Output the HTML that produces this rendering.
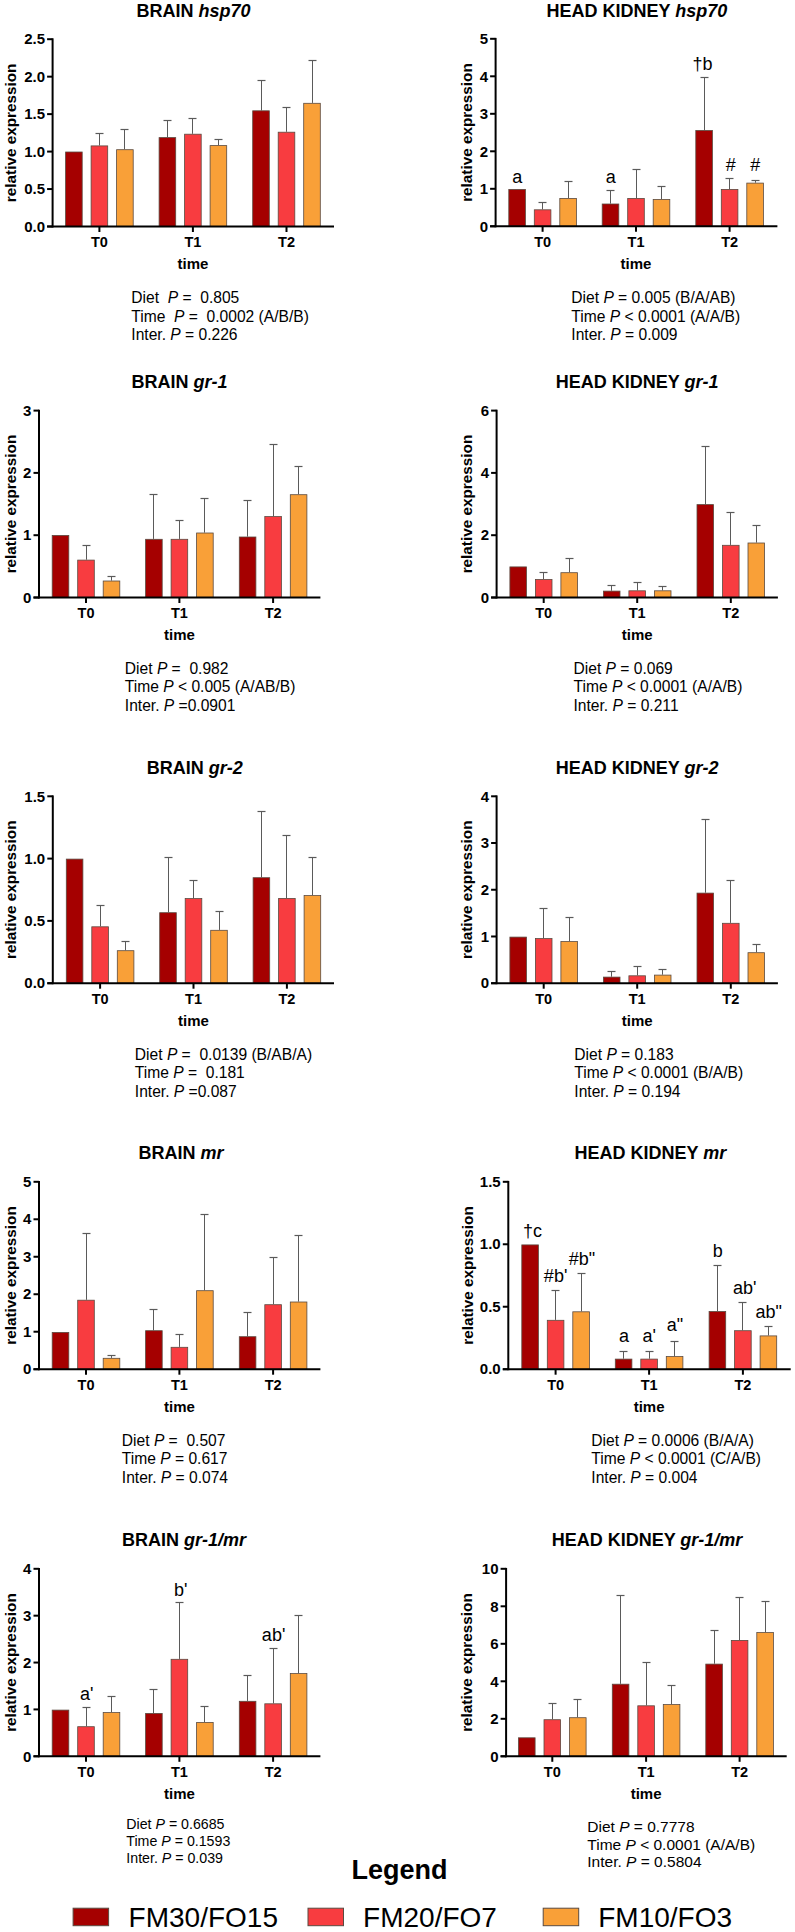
<!DOCTYPE html>
<html><head><meta charset="utf-8"><style>
html,body{margin:0;padding:0;background:#fff;}
svg{display:block;}
</style></head><body>
<svg width="795" height="1932" viewBox="0 0 795 1932" font-family='"Liberation Sans", sans-serif' fill="#000">
<rect x="0" y="0" width="795" height="1932" fill="#fff"/>
<rect x="65.60" y="152.00" width="16.60" height="74.50" fill="#a50000" stroke="#5a4a40" stroke-width="0.8"/>
<line x1="99.50" y1="145.50" x2="99.50" y2="133.50" stroke="#5a5a5a" stroke-width="1"/>
<line x1="95.50" y1="133.50" x2="103.50" y2="133.50" stroke="#5a5a5a" stroke-width="1.2"/>
<rect x="91.10" y="145.90" width="16.60" height="80.60" fill="#f83c40" stroke="#5a4a40" stroke-width="0.8"/>
<line x1="124.50" y1="149.30" x2="124.50" y2="129.50" stroke="#5a5a5a" stroke-width="1"/>
<line x1="120.50" y1="129.50" x2="128.50" y2="129.50" stroke="#5a5a5a" stroke-width="1.2"/>
<rect x="116.60" y="149.70" width="16.60" height="76.80" fill="#f9a038" stroke="#5a4a40" stroke-width="0.8"/>
<line x1="167.50" y1="137.20" x2="167.50" y2="120.50" stroke="#5a5a5a" stroke-width="1"/>
<line x1="163.50" y1="120.50" x2="171.50" y2="120.50" stroke="#5a5a5a" stroke-width="1.2"/>
<rect x="159.10" y="137.60" width="16.60" height="88.90" fill="#a50000" stroke="#5a4a40" stroke-width="0.8"/>
<line x1="192.50" y1="133.80" x2="192.50" y2="118.50" stroke="#5a5a5a" stroke-width="1"/>
<line x1="188.50" y1="118.50" x2="196.50" y2="118.50" stroke="#5a5a5a" stroke-width="1.2"/>
<rect x="184.60" y="134.20" width="16.60" height="92.30" fill="#f83c40" stroke="#5a4a40" stroke-width="0.8"/>
<line x1="218.50" y1="145.20" x2="218.50" y2="139.50" stroke="#5a5a5a" stroke-width="1"/>
<line x1="214.50" y1="139.50" x2="222.50" y2="139.50" stroke="#5a5a5a" stroke-width="1.2"/>
<rect x="210.10" y="145.60" width="16.60" height="80.90" fill="#f9a038" stroke="#5a4a40" stroke-width="0.8"/>
<line x1="261.50" y1="110.40" x2="261.50" y2="80.50" stroke="#5a5a5a" stroke-width="1"/>
<line x1="257.50" y1="80.50" x2="265.50" y2="80.50" stroke="#5a5a5a" stroke-width="1.2"/>
<rect x="252.70" y="110.80" width="16.60" height="115.70" fill="#a50000" stroke="#5a4a40" stroke-width="0.8"/>
<line x1="286.50" y1="131.80" x2="286.50" y2="107.50" stroke="#5a5a5a" stroke-width="1"/>
<line x1="282.50" y1="107.50" x2="290.50" y2="107.50" stroke="#5a5a5a" stroke-width="1.2"/>
<rect x="278.20" y="132.20" width="16.60" height="94.30" fill="#f83c40" stroke="#5a4a40" stroke-width="0.8"/>
<line x1="312.50" y1="102.90" x2="312.50" y2="60.50" stroke="#5a5a5a" stroke-width="1"/>
<line x1="308.50" y1="60.50" x2="316.50" y2="60.50" stroke="#5a5a5a" stroke-width="1.2"/>
<rect x="303.70" y="103.30" width="16.60" height="123.20" fill="#f9a038" stroke="#5a4a40" stroke-width="0.8"/>
<line x1="52.60" y1="38.30" x2="52.60" y2="227.50" stroke="#000" stroke-width="2"/>
<line x1="47.10" y1="226.50" x2="334.00" y2="226.50" stroke="#000" stroke-width="2"/>
<line x1="47.10" y1="226.50" x2="52.60" y2="226.50" stroke="#000" stroke-width="2"/>
<text transform="translate(45.00,231.70) scale(1.0,1)" text-anchor="end" font-weight="bold" font-size="15">0.0</text>
<line x1="47.10" y1="189.04" x2="52.60" y2="189.04" stroke="#000" stroke-width="2"/>
<text transform="translate(45.00,194.24) scale(1.0,1)" text-anchor="end" font-weight="bold" font-size="15">0.5</text>
<line x1="47.10" y1="151.58" x2="52.60" y2="151.58" stroke="#000" stroke-width="2"/>
<text transform="translate(45.00,156.78) scale(1.0,1)" text-anchor="end" font-weight="bold" font-size="15">1.0</text>
<line x1="47.10" y1="114.12" x2="52.60" y2="114.12" stroke="#000" stroke-width="2"/>
<text transform="translate(45.00,119.32) scale(1.0,1)" text-anchor="end" font-weight="bold" font-size="15">1.5</text>
<line x1="47.10" y1="76.66" x2="52.60" y2="76.66" stroke="#000" stroke-width="2"/>
<text transform="translate(45.00,81.86) scale(1.0,1)" text-anchor="end" font-weight="bold" font-size="15">2.0</text>
<line x1="47.10" y1="39.20" x2="52.60" y2="39.20" stroke="#000" stroke-width="2"/>
<text transform="translate(45.00,44.40) scale(1.0,1)" text-anchor="end" font-weight="bold" font-size="15">2.5</text>
<line x1="99.40" y1="226.50" x2="99.40" y2="232.00" stroke="#000" stroke-width="2"/>
<text transform="translate(99.40,246.80) scale(1.0,1)" text-anchor="middle" font-weight="bold" font-size="14.5">T0</text>
<line x1="192.90" y1="226.50" x2="192.90" y2="232.00" stroke="#000" stroke-width="2"/>
<text transform="translate(192.90,246.80) scale(1.0,1)" text-anchor="middle" font-weight="bold" font-size="14.5">T1</text>
<line x1="286.50" y1="226.50" x2="286.50" y2="232.00" stroke="#000" stroke-width="2"/>
<text transform="translate(286.50,246.80) scale(1.0,1)" text-anchor="middle" font-weight="bold" font-size="14.5">T2</text>
<text transform="translate(192.90,269.10) scale(1.0,1)" text-anchor="middle" font-weight="bold" font-size="15">time</text>
<text transform="translate(15.70,132.85) rotate(-90) scale(1.0,1)" text-anchor="middle" font-weight="bold" font-size="15.3">relative expression</text>
<text transform="translate(193.50,17.10) scale(1.0,1)" text-anchor="middle" font-weight="bold" font-size="18">BRAIN <tspan font-style="italic">hsp70</tspan></text>
<text transform="translate(131.30,302.70) scale(1.0,1)" font-size="15.6" xml:space="preserve" style="white-space:pre">Diet  <tspan font-style="italic">P</tspan> =  0.805</text>
<text transform="translate(131.30,321.60) scale(1.0,1)" font-size="15.6" xml:space="preserve" style="white-space:pre">Time  <tspan font-style="italic">P</tspan> =  0.0002 (A/B/B)</text>
<text transform="translate(131.30,339.70) scale(1.0,1)" font-size="15.6" xml:space="preserve" style="white-space:pre">Inter. <tspan font-style="italic">P</tspan> = 0.226</text>
<rect x="508.80" y="189.40" width="16.60" height="36.90" fill="#a50000" stroke="#5a4a40" stroke-width="0.8"/>
<line x1="542.50" y1="209.40" x2="542.50" y2="202.50" stroke="#5a5a5a" stroke-width="1"/>
<line x1="538.50" y1="202.50" x2="546.50" y2="202.50" stroke="#5a5a5a" stroke-width="1.2"/>
<rect x="534.30" y="209.80" width="16.60" height="16.50" fill="#f83c40" stroke="#5a4a40" stroke-width="0.8"/>
<line x1="568.50" y1="198.00" x2="568.50" y2="181.50" stroke="#5a5a5a" stroke-width="1"/>
<line x1="564.50" y1="181.50" x2="572.50" y2="181.50" stroke="#5a5a5a" stroke-width="1.2"/>
<rect x="559.80" y="198.40" width="16.60" height="27.90" fill="#f9a038" stroke="#5a4a40" stroke-width="0.8"/>
<line x1="610.50" y1="203.60" x2="610.50" y2="190.50" stroke="#5a5a5a" stroke-width="1"/>
<line x1="606.50" y1="190.50" x2="614.50" y2="190.50" stroke="#5a5a5a" stroke-width="1.2"/>
<rect x="602.20" y="204.00" width="16.60" height="22.30" fill="#a50000" stroke="#5a4a40" stroke-width="0.8"/>
<line x1="636.50" y1="198.00" x2="636.50" y2="169.50" stroke="#5a5a5a" stroke-width="1"/>
<line x1="632.50" y1="169.50" x2="640.50" y2="169.50" stroke="#5a5a5a" stroke-width="1.2"/>
<rect x="627.70" y="198.40" width="16.60" height="27.90" fill="#f83c40" stroke="#5a4a40" stroke-width="0.8"/>
<line x1="661.50" y1="199.00" x2="661.50" y2="186.50" stroke="#5a5a5a" stroke-width="1"/>
<line x1="657.50" y1="186.50" x2="665.50" y2="186.50" stroke="#5a5a5a" stroke-width="1.2"/>
<rect x="653.20" y="199.40" width="16.60" height="26.90" fill="#f9a038" stroke="#5a4a40" stroke-width="0.8"/>
<line x1="704.50" y1="130.10" x2="704.50" y2="77.50" stroke="#5a5a5a" stroke-width="1"/>
<line x1="700.50" y1="77.50" x2="708.50" y2="77.50" stroke="#5a5a5a" stroke-width="1.2"/>
<rect x="695.80" y="130.50" width="16.60" height="95.80" fill="#a50000" stroke="#5a4a40" stroke-width="0.8"/>
<line x1="729.50" y1="189.00" x2="729.50" y2="178.50" stroke="#5a5a5a" stroke-width="1"/>
<line x1="725.50" y1="178.50" x2="733.50" y2="178.50" stroke="#5a5a5a" stroke-width="1.2"/>
<rect x="721.30" y="189.40" width="16.60" height="36.90" fill="#f83c40" stroke="#5a4a40" stroke-width="0.8"/>
<line x1="755.50" y1="182.70" x2="755.50" y2="180.50" stroke="#5a5a5a" stroke-width="1"/>
<line x1="751.50" y1="180.50" x2="759.50" y2="180.50" stroke="#5a5a5a" stroke-width="1.2"/>
<rect x="746.80" y="183.10" width="16.60" height="43.20" fill="#f9a038" stroke="#5a4a40" stroke-width="0.8"/>
<line x1="495.60" y1="37.90" x2="495.60" y2="227.30" stroke="#000" stroke-width="2"/>
<line x1="490.10" y1="226.30" x2="777.40" y2="226.30" stroke="#000" stroke-width="2"/>
<line x1="490.10" y1="226.30" x2="495.60" y2="226.30" stroke="#000" stroke-width="2"/>
<text transform="translate(488.00,231.50) scale(1.0,1)" text-anchor="end" font-weight="bold" font-size="15">0</text>
<line x1="490.10" y1="188.80" x2="495.60" y2="188.80" stroke="#000" stroke-width="2"/>
<text transform="translate(488.00,194.00) scale(1.0,1)" text-anchor="end" font-weight="bold" font-size="15">1</text>
<line x1="490.10" y1="151.30" x2="495.60" y2="151.30" stroke="#000" stroke-width="2"/>
<text transform="translate(488.00,156.50) scale(1.0,1)" text-anchor="end" font-weight="bold" font-size="15">2</text>
<line x1="490.10" y1="113.80" x2="495.60" y2="113.80" stroke="#000" stroke-width="2"/>
<text transform="translate(488.00,119.00) scale(1.0,1)" text-anchor="end" font-weight="bold" font-size="15">3</text>
<line x1="490.10" y1="76.30" x2="495.60" y2="76.30" stroke="#000" stroke-width="2"/>
<text transform="translate(488.00,81.50) scale(1.0,1)" text-anchor="end" font-weight="bold" font-size="15">4</text>
<line x1="490.10" y1="38.80" x2="495.60" y2="38.80" stroke="#000" stroke-width="2"/>
<text transform="translate(488.00,44.00) scale(1.0,1)" text-anchor="end" font-weight="bold" font-size="15">5</text>
<line x1="542.60" y1="226.30" x2="542.60" y2="231.80" stroke="#000" stroke-width="2"/>
<text transform="translate(542.60,246.60) scale(1.0,1)" text-anchor="middle" font-weight="bold" font-size="14.5">T0</text>
<line x1="636.00" y1="226.30" x2="636.00" y2="231.80" stroke="#000" stroke-width="2"/>
<text transform="translate(636.00,246.60) scale(1.0,1)" text-anchor="middle" font-weight="bold" font-size="14.5">T1</text>
<line x1="729.60" y1="226.30" x2="729.60" y2="231.80" stroke="#000" stroke-width="2"/>
<text transform="translate(729.60,246.60) scale(1.0,1)" text-anchor="middle" font-weight="bold" font-size="14.5">T2</text>
<text transform="translate(636.00,268.90) scale(1.0,1)" text-anchor="middle" font-weight="bold" font-size="15">time</text>
<text transform="translate(471.70,132.55) rotate(-90) scale(1.0,1)" text-anchor="middle" font-weight="bold" font-size="15.3">relative expression</text>
<text transform="translate(636.90,17.10) scale(1.0,1)" text-anchor="middle" font-weight="bold" font-size="18">HEAD KIDNEY <tspan font-style="italic">hsp70</tspan></text>
<text transform="translate(517.20,183.00) scale(1.0,1)" text-anchor="middle" font-size="18">a</text>
<text transform="translate(610.80,183.30) scale(1.0,1)" text-anchor="middle" font-size="18">a</text>
<text transform="translate(702.40,69.50) scale(1.0,1)" text-anchor="middle" font-size="18">†b</text>
<text transform="translate(730.80,171.40) scale(1.0,1)" text-anchor="middle" font-size="18">#</text>
<text transform="translate(755.30,171.40) scale(1.0,1)" text-anchor="middle" font-size="18">#</text>
<text transform="translate(571.30,302.70) scale(1.0,1)" font-size="15.6" xml:space="preserve" style="white-space:pre">Diet <tspan font-style="italic">P</tspan> = 0.005 (B/A/AB)</text>
<text transform="translate(571.30,321.60) scale(1.0,1)" font-size="15.6" xml:space="preserve" style="white-space:pre">Time <tspan font-style="italic">P</tspan> &lt; 0.0001 (A/A/B)</text>
<text transform="translate(571.30,339.70) scale(1.0,1)" font-size="15.6" xml:space="preserve" style="white-space:pre">Inter. <tspan font-style="italic">P</tspan> = 0.009</text>
<rect x="52.20" y="535.40" width="16.60" height="62.10" fill="#a50000" stroke="#5a4a40" stroke-width="0.8"/>
<line x1="86.50" y1="559.70" x2="86.50" y2="545.50" stroke="#5a5a5a" stroke-width="1"/>
<line x1="82.50" y1="545.50" x2="90.50" y2="545.50" stroke="#5a5a5a" stroke-width="1.2"/>
<rect x="77.70" y="560.10" width="16.60" height="37.40" fill="#f83c40" stroke="#5a4a40" stroke-width="0.8"/>
<line x1="111.50" y1="580.60" x2="111.50" y2="576.50" stroke="#5a5a5a" stroke-width="1"/>
<line x1="107.50" y1="576.50" x2="115.50" y2="576.50" stroke="#5a5a5a" stroke-width="1.2"/>
<rect x="103.20" y="581.00" width="16.60" height="16.50" fill="#f9a038" stroke="#5a4a40" stroke-width="0.8"/>
<line x1="153.50" y1="538.90" x2="153.50" y2="494.50" stroke="#5a5a5a" stroke-width="1"/>
<line x1="149.50" y1="494.50" x2="157.50" y2="494.50" stroke="#5a5a5a" stroke-width="1.2"/>
<rect x="145.60" y="539.30" width="16.60" height="58.20" fill="#a50000" stroke="#5a4a40" stroke-width="0.8"/>
<line x1="179.50" y1="538.90" x2="179.50" y2="520.50" stroke="#5a5a5a" stroke-width="1"/>
<line x1="175.50" y1="520.50" x2="183.50" y2="520.50" stroke="#5a5a5a" stroke-width="1.2"/>
<rect x="171.10" y="539.30" width="16.60" height="58.20" fill="#f83c40" stroke="#5a4a40" stroke-width="0.8"/>
<line x1="204.50" y1="532.60" x2="204.50" y2="498.50" stroke="#5a5a5a" stroke-width="1"/>
<line x1="200.50" y1="498.50" x2="208.50" y2="498.50" stroke="#5a5a5a" stroke-width="1.2"/>
<rect x="196.60" y="533.00" width="16.60" height="64.50" fill="#f9a038" stroke="#5a4a40" stroke-width="0.8"/>
<line x1="247.50" y1="536.60" x2="247.50" y2="500.50" stroke="#5a5a5a" stroke-width="1"/>
<line x1="243.50" y1="500.50" x2="251.50" y2="500.50" stroke="#5a5a5a" stroke-width="1.2"/>
<rect x="239.30" y="537.00" width="16.60" height="60.50" fill="#a50000" stroke="#5a4a40" stroke-width="0.8"/>
<line x1="273.50" y1="516.20" x2="273.50" y2="444.50" stroke="#5a5a5a" stroke-width="1"/>
<line x1="269.50" y1="444.50" x2="277.50" y2="444.50" stroke="#5a5a5a" stroke-width="1.2"/>
<rect x="264.80" y="516.60" width="16.60" height="80.90" fill="#f83c40" stroke="#5a4a40" stroke-width="0.8"/>
<line x1="298.50" y1="494.30" x2="298.50" y2="466.50" stroke="#5a5a5a" stroke-width="1"/>
<line x1="294.50" y1="466.50" x2="302.50" y2="466.50" stroke="#5a5a5a" stroke-width="1.2"/>
<rect x="290.30" y="494.70" width="16.60" height="102.80" fill="#f9a038" stroke="#5a4a40" stroke-width="0.8"/>
<line x1="39.00" y1="409.70" x2="39.00" y2="598.50" stroke="#000" stroke-width="2"/>
<line x1="33.50" y1="597.50" x2="320.40" y2="597.50" stroke="#000" stroke-width="2"/>
<line x1="33.50" y1="597.50" x2="39.00" y2="597.50" stroke="#000" stroke-width="2"/>
<text transform="translate(31.40,602.70) scale(1.0,1)" text-anchor="end" font-weight="bold" font-size="15">0</text>
<line x1="33.50" y1="535.20" x2="39.00" y2="535.20" stroke="#000" stroke-width="2"/>
<text transform="translate(31.40,540.40) scale(1.0,1)" text-anchor="end" font-weight="bold" font-size="15">1</text>
<line x1="33.50" y1="472.90" x2="39.00" y2="472.90" stroke="#000" stroke-width="2"/>
<text transform="translate(31.40,478.10) scale(1.0,1)" text-anchor="end" font-weight="bold" font-size="15">2</text>
<line x1="33.50" y1="410.60" x2="39.00" y2="410.60" stroke="#000" stroke-width="2"/>
<text transform="translate(31.40,415.80) scale(1.0,1)" text-anchor="end" font-weight="bold" font-size="15">3</text>
<line x1="86.00" y1="597.50" x2="86.00" y2="603.00" stroke="#000" stroke-width="2"/>
<text transform="translate(86.00,617.80) scale(1.0,1)" text-anchor="middle" font-weight="bold" font-size="14.5">T0</text>
<line x1="179.40" y1="597.50" x2="179.40" y2="603.00" stroke="#000" stroke-width="2"/>
<text transform="translate(179.40,617.80) scale(1.0,1)" text-anchor="middle" font-weight="bold" font-size="14.5">T1</text>
<line x1="273.10" y1="597.50" x2="273.10" y2="603.00" stroke="#000" stroke-width="2"/>
<text transform="translate(273.10,617.80) scale(1.0,1)" text-anchor="middle" font-weight="bold" font-size="14.5">T2</text>
<text transform="translate(179.40,640.10) scale(1.0,1)" text-anchor="middle" font-weight="bold" font-size="15">time</text>
<text transform="translate(15.70,504.05) rotate(-90) scale(1.0,1)" text-anchor="middle" font-weight="bold" font-size="15.3">relative expression</text>
<text transform="translate(179.50,388.20) scale(1.0,1)" text-anchor="middle" font-weight="bold" font-size="18">BRAIN <tspan font-style="italic">gr-1</tspan></text>
<text transform="translate(124.80,673.70) scale(1.0,1)" font-size="15.6" xml:space="preserve" style="white-space:pre">Diet <tspan font-style="italic">P</tspan> =  0.982</text>
<text transform="translate(124.80,692.10) scale(1.0,1)" font-size="15.6" xml:space="preserve" style="white-space:pre">Time <tspan font-style="italic">P</tspan> &lt; 0.005 (A/AB/B)</text>
<text transform="translate(124.80,711.00) scale(1.0,1)" font-size="15.6" xml:space="preserve" style="white-space:pre">Inter. <tspan font-style="italic">P</tspan> =0.0901</text>
<rect x="509.90" y="566.90" width="16.60" height="30.60" fill="#a50000" stroke="#5a4a40" stroke-width="0.8"/>
<line x1="543.50" y1="579.10" x2="543.50" y2="572.50" stroke="#5a5a5a" stroke-width="1"/>
<line x1="539.50" y1="572.50" x2="547.50" y2="572.50" stroke="#5a5a5a" stroke-width="1.2"/>
<rect x="535.40" y="579.50" width="16.60" height="18.00" fill="#f83c40" stroke="#5a4a40" stroke-width="0.8"/>
<line x1="569.50" y1="572.30" x2="569.50" y2="558.50" stroke="#5a5a5a" stroke-width="1"/>
<line x1="565.50" y1="558.50" x2="573.50" y2="558.50" stroke="#5a5a5a" stroke-width="1.2"/>
<rect x="560.90" y="572.70" width="16.60" height="24.80" fill="#f9a038" stroke="#5a4a40" stroke-width="0.8"/>
<line x1="611.50" y1="590.70" x2="611.50" y2="585.50" stroke="#5a5a5a" stroke-width="1"/>
<line x1="607.50" y1="585.50" x2="615.50" y2="585.50" stroke="#5a5a5a" stroke-width="1.2"/>
<rect x="603.40" y="591.10" width="16.60" height="6.40" fill="#a50000" stroke="#5a4a40" stroke-width="0.8"/>
<line x1="637.50" y1="590.40" x2="637.50" y2="582.50" stroke="#5a5a5a" stroke-width="1"/>
<line x1="633.50" y1="582.50" x2="641.50" y2="582.50" stroke="#5a5a5a" stroke-width="1.2"/>
<rect x="628.90" y="590.80" width="16.60" height="6.70" fill="#f83c40" stroke="#5a4a40" stroke-width="0.8"/>
<line x1="662.50" y1="590.40" x2="662.50" y2="586.50" stroke="#5a5a5a" stroke-width="1"/>
<line x1="658.50" y1="586.50" x2="666.50" y2="586.50" stroke="#5a5a5a" stroke-width="1.2"/>
<rect x="654.40" y="590.80" width="16.60" height="6.70" fill="#f9a038" stroke="#5a4a40" stroke-width="0.8"/>
<line x1="705.50" y1="504.20" x2="705.50" y2="446.50" stroke="#5a5a5a" stroke-width="1"/>
<line x1="701.50" y1="446.50" x2="709.50" y2="446.50" stroke="#5a5a5a" stroke-width="1.2"/>
<rect x="697.00" y="504.60" width="16.60" height="92.90" fill="#a50000" stroke="#5a4a40" stroke-width="0.8"/>
<line x1="730.50" y1="544.90" x2="730.50" y2="512.50" stroke="#5a5a5a" stroke-width="1"/>
<line x1="726.50" y1="512.50" x2="734.50" y2="512.50" stroke="#5a5a5a" stroke-width="1.2"/>
<rect x="722.50" y="545.30" width="16.60" height="52.20" fill="#f83c40" stroke="#5a4a40" stroke-width="0.8"/>
<line x1="756.50" y1="542.60" x2="756.50" y2="525.50" stroke="#5a5a5a" stroke-width="1"/>
<line x1="752.50" y1="525.50" x2="760.50" y2="525.50" stroke="#5a5a5a" stroke-width="1.2"/>
<rect x="748.00" y="543.00" width="16.60" height="54.50" fill="#f9a038" stroke="#5a4a40" stroke-width="0.8"/>
<line x1="496.60" y1="409.70" x2="496.60" y2="598.50" stroke="#000" stroke-width="2"/>
<line x1="491.10" y1="597.50" x2="777.90" y2="597.50" stroke="#000" stroke-width="2"/>
<line x1="491.10" y1="597.50" x2="496.60" y2="597.50" stroke="#000" stroke-width="2"/>
<text transform="translate(489.00,602.70) scale(1.0,1)" text-anchor="end" font-weight="bold" font-size="15">0</text>
<line x1="491.10" y1="535.20" x2="496.60" y2="535.20" stroke="#000" stroke-width="2"/>
<text transform="translate(489.00,540.40) scale(1.0,1)" text-anchor="end" font-weight="bold" font-size="15">2</text>
<line x1="491.10" y1="472.90" x2="496.60" y2="472.90" stroke="#000" stroke-width="2"/>
<text transform="translate(489.00,478.10) scale(1.0,1)" text-anchor="end" font-weight="bold" font-size="15">4</text>
<line x1="491.10" y1="410.60" x2="496.60" y2="410.60" stroke="#000" stroke-width="2"/>
<text transform="translate(489.00,415.80) scale(1.0,1)" text-anchor="end" font-weight="bold" font-size="15">6</text>
<line x1="543.70" y1="597.50" x2="543.70" y2="603.00" stroke="#000" stroke-width="2"/>
<text transform="translate(543.70,617.80) scale(1.0,1)" text-anchor="middle" font-weight="bold" font-size="14.5">T0</text>
<line x1="637.20" y1="597.50" x2="637.20" y2="603.00" stroke="#000" stroke-width="2"/>
<text transform="translate(637.20,617.80) scale(1.0,1)" text-anchor="middle" font-weight="bold" font-size="14.5">T1</text>
<line x1="730.80" y1="597.50" x2="730.80" y2="603.00" stroke="#000" stroke-width="2"/>
<text transform="translate(730.80,617.80) scale(1.0,1)" text-anchor="middle" font-weight="bold" font-size="14.5">T2</text>
<text transform="translate(637.20,640.10) scale(1.0,1)" text-anchor="middle" font-weight="bold" font-size="15">time</text>
<text transform="translate(471.70,504.05) rotate(-90) scale(1.0,1)" text-anchor="middle" font-weight="bold" font-size="15.3">relative expression</text>
<text transform="translate(637.20,388.20) scale(1.0,1)" text-anchor="middle" font-weight="bold" font-size="18">HEAD KIDNEY <tspan font-style="italic">gr-1</tspan></text>
<text transform="translate(573.50,673.70) scale(1.0,1)" font-size="15.6" xml:space="preserve" style="white-space:pre">Diet <tspan font-style="italic">P</tspan> = 0.069</text>
<text transform="translate(573.50,692.10) scale(1.0,1)" font-size="15.6" xml:space="preserve" style="white-space:pre">Time <tspan font-style="italic">P</tspan> &lt; 0.0001 (A/A/B)</text>
<text transform="translate(573.50,711.00) scale(1.0,1)" font-size="15.6" xml:space="preserve" style="white-space:pre">Inter. <tspan font-style="italic">P</tspan> = 0.211</text>
<rect x="66.30" y="859.10" width="16.60" height="124.10" fill="#a50000" stroke="#5a4a40" stroke-width="0.8"/>
<line x1="100.50" y1="926.40" x2="100.50" y2="905.50" stroke="#5a5a5a" stroke-width="1"/>
<line x1="96.50" y1="905.50" x2="104.50" y2="905.50" stroke="#5a5a5a" stroke-width="1.2"/>
<rect x="91.80" y="926.80" width="16.60" height="56.40" fill="#f83c40" stroke="#5a4a40" stroke-width="0.8"/>
<line x1="125.50" y1="950.30" x2="125.50" y2="941.50" stroke="#5a5a5a" stroke-width="1"/>
<line x1="121.50" y1="941.50" x2="129.50" y2="941.50" stroke="#5a5a5a" stroke-width="1.2"/>
<rect x="117.30" y="950.70" width="16.60" height="32.50" fill="#f9a038" stroke="#5a4a40" stroke-width="0.8"/>
<line x1="168.50" y1="912.30" x2="168.50" y2="857.50" stroke="#5a5a5a" stroke-width="1"/>
<line x1="164.50" y1="857.50" x2="172.50" y2="857.50" stroke="#5a5a5a" stroke-width="1.2"/>
<rect x="159.70" y="912.70" width="16.60" height="70.50" fill="#a50000" stroke="#5a4a40" stroke-width="0.8"/>
<line x1="193.50" y1="898.20" x2="193.50" y2="880.50" stroke="#5a5a5a" stroke-width="1"/>
<line x1="189.50" y1="880.50" x2="197.50" y2="880.50" stroke="#5a5a5a" stroke-width="1.2"/>
<rect x="185.20" y="898.60" width="16.60" height="84.60" fill="#f83c40" stroke="#5a4a40" stroke-width="0.8"/>
<line x1="219.50" y1="929.90" x2="219.50" y2="911.50" stroke="#5a5a5a" stroke-width="1"/>
<line x1="215.50" y1="911.50" x2="223.50" y2="911.50" stroke="#5a5a5a" stroke-width="1.2"/>
<rect x="210.70" y="930.30" width="16.60" height="52.90" fill="#f9a038" stroke="#5a4a40" stroke-width="0.8"/>
<line x1="261.50" y1="877.30" x2="261.50" y2="811.50" stroke="#5a5a5a" stroke-width="1"/>
<line x1="257.50" y1="811.50" x2="265.50" y2="811.50" stroke="#5a5a5a" stroke-width="1.2"/>
<rect x="253.10" y="877.70" width="16.60" height="105.50" fill="#a50000" stroke="#5a4a40" stroke-width="0.8"/>
<line x1="286.50" y1="898.00" x2="286.50" y2="835.50" stroke="#5a5a5a" stroke-width="1"/>
<line x1="282.50" y1="835.50" x2="290.50" y2="835.50" stroke="#5a5a5a" stroke-width="1.2"/>
<rect x="278.60" y="898.40" width="16.60" height="84.80" fill="#f83c40" stroke="#5a4a40" stroke-width="0.8"/>
<line x1="312.50" y1="895.20" x2="312.50" y2="857.50" stroke="#5a5a5a" stroke-width="1"/>
<line x1="308.50" y1="857.50" x2="316.50" y2="857.50" stroke="#5a5a5a" stroke-width="1.2"/>
<rect x="304.10" y="895.60" width="16.60" height="87.60" fill="#f9a038" stroke="#5a4a40" stroke-width="0.8"/>
<line x1="52.80" y1="795.40" x2="52.80" y2="984.20" stroke="#000" stroke-width="2"/>
<line x1="47.30" y1="983.20" x2="334.00" y2="983.20" stroke="#000" stroke-width="2"/>
<line x1="47.30" y1="983.20" x2="52.80" y2="983.20" stroke="#000" stroke-width="2"/>
<text transform="translate(45.20,988.40) scale(1.0,1)" text-anchor="end" font-weight="bold" font-size="15">0.0</text>
<line x1="47.30" y1="920.90" x2="52.80" y2="920.90" stroke="#000" stroke-width="2"/>
<text transform="translate(45.20,926.10) scale(1.0,1)" text-anchor="end" font-weight="bold" font-size="15">0.5</text>
<line x1="47.30" y1="858.60" x2="52.80" y2="858.60" stroke="#000" stroke-width="2"/>
<text transform="translate(45.20,863.80) scale(1.0,1)" text-anchor="end" font-weight="bold" font-size="15">1.0</text>
<line x1="47.30" y1="796.30" x2="52.80" y2="796.30" stroke="#000" stroke-width="2"/>
<text transform="translate(45.20,801.50) scale(1.0,1)" text-anchor="end" font-weight="bold" font-size="15">1.5</text>
<line x1="100.10" y1="983.20" x2="100.10" y2="988.70" stroke="#000" stroke-width="2"/>
<text transform="translate(100.10,1003.50) scale(1.0,1)" text-anchor="middle" font-weight="bold" font-size="14.5">T0</text>
<line x1="193.50" y1="983.20" x2="193.50" y2="988.70" stroke="#000" stroke-width="2"/>
<text transform="translate(193.50,1003.50) scale(1.0,1)" text-anchor="middle" font-weight="bold" font-size="14.5">T1</text>
<line x1="286.90" y1="983.20" x2="286.90" y2="988.70" stroke="#000" stroke-width="2"/>
<text transform="translate(286.90,1003.50) scale(1.0,1)" text-anchor="middle" font-weight="bold" font-size="14.5">T2</text>
<text transform="translate(193.50,1025.80) scale(1.0,1)" text-anchor="middle" font-weight="bold" font-size="15">time</text>
<text transform="translate(15.70,889.75) rotate(-90) scale(1.0,1)" text-anchor="middle" font-weight="bold" font-size="15.3">relative expression</text>
<text transform="translate(194.70,773.90) scale(1.0,1)" text-anchor="middle" font-weight="bold" font-size="18">BRAIN <tspan font-style="italic">gr-2</tspan></text>
<text transform="translate(134.80,1059.50) scale(1.0,1)" font-size="15.6" xml:space="preserve" style="white-space:pre">Diet <tspan font-style="italic">P</tspan> =  0.0139 (B/AB/A)</text>
<text transform="translate(134.80,1077.90) scale(1.0,1)" font-size="15.6" xml:space="preserve" style="white-space:pre">Time <tspan font-style="italic">P</tspan> =  0.181</text>
<text transform="translate(134.80,1096.70) scale(1.0,1)" font-size="15.6" xml:space="preserve" style="white-space:pre">Inter. <tspan font-style="italic">P</tspan> =0.087</text>
<rect x="509.90" y="937.10" width="16.60" height="46.10" fill="#a50000" stroke="#5a4a40" stroke-width="0.8"/>
<line x1="543.50" y1="938.20" x2="543.50" y2="908.50" stroke="#5a5a5a" stroke-width="1"/>
<line x1="539.50" y1="908.50" x2="547.50" y2="908.50" stroke="#5a5a5a" stroke-width="1.2"/>
<rect x="535.40" y="938.60" width="16.60" height="44.60" fill="#f83c40" stroke="#5a4a40" stroke-width="0.8"/>
<line x1="569.50" y1="941.20" x2="569.50" y2="917.50" stroke="#5a5a5a" stroke-width="1"/>
<line x1="565.50" y1="917.50" x2="573.50" y2="917.50" stroke="#5a5a5a" stroke-width="1.2"/>
<rect x="560.90" y="941.60" width="16.60" height="41.60" fill="#f9a038" stroke="#5a4a40" stroke-width="0.8"/>
<line x1="611.50" y1="976.70" x2="611.50" y2="971.50" stroke="#5a5a5a" stroke-width="1"/>
<line x1="607.50" y1="971.50" x2="615.50" y2="971.50" stroke="#5a5a5a" stroke-width="1.2"/>
<rect x="603.40" y="977.10" width="16.60" height="6.10" fill="#a50000" stroke="#5a4a40" stroke-width="0.8"/>
<line x1="637.50" y1="975.40" x2="637.50" y2="966.50" stroke="#5a5a5a" stroke-width="1"/>
<line x1="633.50" y1="966.50" x2="641.50" y2="966.50" stroke="#5a5a5a" stroke-width="1.2"/>
<rect x="628.90" y="975.80" width="16.60" height="7.40" fill="#f83c40" stroke="#5a4a40" stroke-width="0.8"/>
<line x1="662.50" y1="974.70" x2="662.50" y2="969.50" stroke="#5a5a5a" stroke-width="1"/>
<line x1="658.50" y1="969.50" x2="666.50" y2="969.50" stroke="#5a5a5a" stroke-width="1.2"/>
<rect x="654.40" y="975.10" width="16.60" height="8.10" fill="#f9a038" stroke="#5a4a40" stroke-width="0.8"/>
<line x1="705.50" y1="892.70" x2="705.50" y2="819.50" stroke="#5a5a5a" stroke-width="1"/>
<line x1="701.50" y1="819.50" x2="709.50" y2="819.50" stroke="#5a5a5a" stroke-width="1.2"/>
<rect x="697.00" y="893.10" width="16.60" height="90.10" fill="#a50000" stroke="#5a4a40" stroke-width="0.8"/>
<line x1="730.50" y1="922.90" x2="730.50" y2="880.50" stroke="#5a5a5a" stroke-width="1"/>
<line x1="726.50" y1="880.50" x2="734.50" y2="880.50" stroke="#5a5a5a" stroke-width="1.2"/>
<rect x="722.50" y="923.30" width="16.60" height="59.90" fill="#f83c40" stroke="#5a4a40" stroke-width="0.8"/>
<line x1="756.50" y1="952.30" x2="756.50" y2="944.50" stroke="#5a5a5a" stroke-width="1"/>
<line x1="752.50" y1="944.50" x2="760.50" y2="944.50" stroke="#5a5a5a" stroke-width="1.2"/>
<rect x="748.00" y="952.70" width="16.60" height="30.50" fill="#f9a038" stroke="#5a4a40" stroke-width="0.8"/>
<line x1="496.60" y1="795.40" x2="496.60" y2="984.20" stroke="#000" stroke-width="2"/>
<line x1="491.10" y1="983.20" x2="777.90" y2="983.20" stroke="#000" stroke-width="2"/>
<line x1="491.10" y1="983.20" x2="496.60" y2="983.20" stroke="#000" stroke-width="2"/>
<text transform="translate(489.00,988.40) scale(1.0,1)" text-anchor="end" font-weight="bold" font-size="15">0</text>
<line x1="491.10" y1="936.48" x2="496.60" y2="936.48" stroke="#000" stroke-width="2"/>
<text transform="translate(489.00,941.68) scale(1.0,1)" text-anchor="end" font-weight="bold" font-size="15">1</text>
<line x1="491.10" y1="889.75" x2="496.60" y2="889.75" stroke="#000" stroke-width="2"/>
<text transform="translate(489.00,894.95) scale(1.0,1)" text-anchor="end" font-weight="bold" font-size="15">2</text>
<line x1="491.10" y1="843.02" x2="496.60" y2="843.02" stroke="#000" stroke-width="2"/>
<text transform="translate(489.00,848.23) scale(1.0,1)" text-anchor="end" font-weight="bold" font-size="15">3</text>
<line x1="491.10" y1="796.30" x2="496.60" y2="796.30" stroke="#000" stroke-width="2"/>
<text transform="translate(489.00,801.50) scale(1.0,1)" text-anchor="end" font-weight="bold" font-size="15">4</text>
<line x1="543.70" y1="983.20" x2="543.70" y2="988.70" stroke="#000" stroke-width="2"/>
<text transform="translate(543.70,1003.50) scale(1.0,1)" text-anchor="middle" font-weight="bold" font-size="14.5">T0</text>
<line x1="637.20" y1="983.20" x2="637.20" y2="988.70" stroke="#000" stroke-width="2"/>
<text transform="translate(637.20,1003.50) scale(1.0,1)" text-anchor="middle" font-weight="bold" font-size="14.5">T1</text>
<line x1="730.80" y1="983.20" x2="730.80" y2="988.70" stroke="#000" stroke-width="2"/>
<text transform="translate(730.80,1003.50) scale(1.0,1)" text-anchor="middle" font-weight="bold" font-size="14.5">T2</text>
<text transform="translate(637.20,1025.80) scale(1.0,1)" text-anchor="middle" font-weight="bold" font-size="15">time</text>
<text transform="translate(471.70,889.75) rotate(-90) scale(1.0,1)" text-anchor="middle" font-weight="bold" font-size="15.3">relative expression</text>
<text transform="translate(637.20,773.90) scale(1.0,1)" text-anchor="middle" font-weight="bold" font-size="18">HEAD KIDNEY <tspan font-style="italic">gr-2</tspan></text>
<text transform="translate(574.30,1059.50) scale(1.0,1)" font-size="15.6" xml:space="preserve" style="white-space:pre">Diet <tspan font-style="italic">P</tspan> = 0.183</text>
<text transform="translate(574.30,1077.90) scale(1.0,1)" font-size="15.6" xml:space="preserve" style="white-space:pre">Time <tspan font-style="italic">P</tspan> &lt; 0.0001 (B/A/B)</text>
<text transform="translate(574.30,1096.70) scale(1.0,1)" font-size="15.6" xml:space="preserve" style="white-space:pre">Inter. <tspan font-style="italic">P</tspan> = 0.194</text>
<rect x="52.20" y="1332.40" width="16.60" height="36.80" fill="#a50000" stroke="#5a4a40" stroke-width="0.8"/>
<line x1="86.50" y1="1299.80" x2="86.50" y2="1233.50" stroke="#5a5a5a" stroke-width="1"/>
<line x1="82.50" y1="1233.50" x2="90.50" y2="1233.50" stroke="#5a5a5a" stroke-width="1.2"/>
<rect x="77.70" y="1300.20" width="16.60" height="69.00" fill="#f83c40" stroke="#5a4a40" stroke-width="0.8"/>
<line x1="111.50" y1="1357.90" x2="111.50" y2="1355.50" stroke="#5a5a5a" stroke-width="1"/>
<line x1="107.50" y1="1355.50" x2="115.50" y2="1355.50" stroke="#5a5a5a" stroke-width="1.2"/>
<rect x="103.20" y="1358.30" width="16.60" height="10.90" fill="#f9a038" stroke="#5a4a40" stroke-width="0.8"/>
<line x1="153.50" y1="1330.30" x2="153.50" y2="1309.50" stroke="#5a5a5a" stroke-width="1"/>
<line x1="149.50" y1="1309.50" x2="157.50" y2="1309.50" stroke="#5a5a5a" stroke-width="1.2"/>
<rect x="145.60" y="1330.70" width="16.60" height="38.50" fill="#a50000" stroke="#5a4a40" stroke-width="0.8"/>
<line x1="179.50" y1="1346.90" x2="179.50" y2="1334.50" stroke="#5a5a5a" stroke-width="1"/>
<line x1="175.50" y1="1334.50" x2="183.50" y2="1334.50" stroke="#5a5a5a" stroke-width="1.2"/>
<rect x="171.10" y="1347.30" width="16.60" height="21.90" fill="#f83c40" stroke="#5a4a40" stroke-width="0.8"/>
<line x1="204.50" y1="1290.30" x2="204.50" y2="1214.50" stroke="#5a5a5a" stroke-width="1"/>
<line x1="200.50" y1="1214.50" x2="208.50" y2="1214.50" stroke="#5a5a5a" stroke-width="1.2"/>
<rect x="196.60" y="1290.70" width="16.60" height="78.50" fill="#f9a038" stroke="#5a4a40" stroke-width="0.8"/>
<line x1="247.50" y1="1336.30" x2="247.50" y2="1312.50" stroke="#5a5a5a" stroke-width="1"/>
<line x1="243.50" y1="1312.50" x2="251.50" y2="1312.50" stroke="#5a5a5a" stroke-width="1.2"/>
<rect x="239.30" y="1336.70" width="16.60" height="32.50" fill="#a50000" stroke="#5a4a40" stroke-width="0.8"/>
<line x1="273.50" y1="1304.30" x2="273.50" y2="1257.50" stroke="#5a5a5a" stroke-width="1"/>
<line x1="269.50" y1="1257.50" x2="277.50" y2="1257.50" stroke="#5a5a5a" stroke-width="1.2"/>
<rect x="264.80" y="1304.70" width="16.60" height="64.50" fill="#f83c40" stroke="#5a4a40" stroke-width="0.8"/>
<line x1="298.50" y1="1301.60" x2="298.50" y2="1235.50" stroke="#5a5a5a" stroke-width="1"/>
<line x1="294.50" y1="1235.50" x2="302.50" y2="1235.50" stroke="#5a5a5a" stroke-width="1.2"/>
<rect x="290.30" y="1302.00" width="16.60" height="67.20" fill="#f9a038" stroke="#5a4a40" stroke-width="0.8"/>
<line x1="39.00" y1="1180.90" x2="39.00" y2="1370.20" stroke="#000" stroke-width="2"/>
<line x1="33.50" y1="1369.20" x2="320.40" y2="1369.20" stroke="#000" stroke-width="2"/>
<line x1="33.50" y1="1369.20" x2="39.00" y2="1369.20" stroke="#000" stroke-width="2"/>
<text transform="translate(31.40,1374.40) scale(1.0,1)" text-anchor="end" font-weight="bold" font-size="15">0</text>
<line x1="33.50" y1="1331.72" x2="39.00" y2="1331.72" stroke="#000" stroke-width="2"/>
<text transform="translate(31.40,1336.92) scale(1.0,1)" text-anchor="end" font-weight="bold" font-size="15">1</text>
<line x1="33.50" y1="1294.24" x2="39.00" y2="1294.24" stroke="#000" stroke-width="2"/>
<text transform="translate(31.40,1299.44) scale(1.0,1)" text-anchor="end" font-weight="bold" font-size="15">2</text>
<line x1="33.50" y1="1256.76" x2="39.00" y2="1256.76" stroke="#000" stroke-width="2"/>
<text transform="translate(31.40,1261.96) scale(1.0,1)" text-anchor="end" font-weight="bold" font-size="15">3</text>
<line x1="33.50" y1="1219.28" x2="39.00" y2="1219.28" stroke="#000" stroke-width="2"/>
<text transform="translate(31.40,1224.48) scale(1.0,1)" text-anchor="end" font-weight="bold" font-size="15">4</text>
<line x1="33.50" y1="1181.80" x2="39.00" y2="1181.80" stroke="#000" stroke-width="2"/>
<text transform="translate(31.40,1187.00) scale(1.0,1)" text-anchor="end" font-weight="bold" font-size="15">5</text>
<line x1="86.00" y1="1369.20" x2="86.00" y2="1374.70" stroke="#000" stroke-width="2"/>
<text transform="translate(86.00,1389.50) scale(1.0,1)" text-anchor="middle" font-weight="bold" font-size="14.5">T0</text>
<line x1="179.40" y1="1369.20" x2="179.40" y2="1374.70" stroke="#000" stroke-width="2"/>
<text transform="translate(179.40,1389.50) scale(1.0,1)" text-anchor="middle" font-weight="bold" font-size="14.5">T1</text>
<line x1="273.10" y1="1369.20" x2="273.10" y2="1374.70" stroke="#000" stroke-width="2"/>
<text transform="translate(273.10,1389.50) scale(1.0,1)" text-anchor="middle" font-weight="bold" font-size="14.5">T2</text>
<text transform="translate(179.40,1411.80) scale(1.0,1)" text-anchor="middle" font-weight="bold" font-size="15">time</text>
<text transform="translate(15.70,1275.50) rotate(-90) scale(1.0,1)" text-anchor="middle" font-weight="bold" font-size="15.3">relative expression</text>
<text transform="translate(180.90,1159.40) scale(1.0,1)" text-anchor="middle" font-weight="bold" font-size="18">BRAIN <tspan font-style="italic">mr</tspan></text>
<text transform="translate(121.80,1445.80) scale(1.0,1)" font-size="15.6" xml:space="preserve" style="white-space:pre">Diet <tspan font-style="italic">P</tspan> =  0.507</text>
<text transform="translate(121.80,1463.90) scale(1.0,1)" font-size="15.6" xml:space="preserve" style="white-space:pre">Time <tspan font-style="italic">P</tspan> = 0.617</text>
<text transform="translate(121.80,1482.70) scale(1.0,1)" font-size="15.6" xml:space="preserve" style="white-space:pre">Inter. <tspan font-style="italic">P</tspan> = 0.074</text>
<rect x="521.80" y="1244.90" width="16.60" height="124.30" fill="#a50000" stroke="#5a4a40" stroke-width="0.8"/>
<line x1="555.50" y1="1319.90" x2="555.50" y2="1290.50" stroke="#5a5a5a" stroke-width="1"/>
<line x1="551.50" y1="1290.50" x2="559.50" y2="1290.50" stroke="#5a5a5a" stroke-width="1.2"/>
<rect x="547.30" y="1320.30" width="16.60" height="48.90" fill="#f83c40" stroke="#5a4a40" stroke-width="0.8"/>
<line x1="581.50" y1="1311.40" x2="581.50" y2="1273.50" stroke="#5a5a5a" stroke-width="1"/>
<line x1="577.50" y1="1273.50" x2="585.50" y2="1273.50" stroke="#5a5a5a" stroke-width="1.2"/>
<rect x="572.80" y="1311.80" width="16.60" height="57.40" fill="#f9a038" stroke="#5a4a40" stroke-width="0.8"/>
<line x1="623.50" y1="1358.70" x2="623.50" y2="1351.50" stroke="#5a5a5a" stroke-width="1"/>
<line x1="619.50" y1="1351.50" x2="627.50" y2="1351.50" stroke="#5a5a5a" stroke-width="1.2"/>
<rect x="615.30" y="1359.10" width="16.60" height="10.10" fill="#a50000" stroke="#5a4a40" stroke-width="0.8"/>
<line x1="649.50" y1="1358.70" x2="649.50" y2="1351.50" stroke="#5a5a5a" stroke-width="1"/>
<line x1="645.50" y1="1351.50" x2="653.50" y2="1351.50" stroke="#5a5a5a" stroke-width="1.2"/>
<rect x="640.80" y="1359.10" width="16.60" height="10.10" fill="#f83c40" stroke="#5a4a40" stroke-width="0.8"/>
<line x1="674.50" y1="1356.20" x2="674.50" y2="1341.50" stroke="#5a5a5a" stroke-width="1"/>
<line x1="670.50" y1="1341.50" x2="678.50" y2="1341.50" stroke="#5a5a5a" stroke-width="1.2"/>
<rect x="666.30" y="1356.60" width="16.60" height="12.60" fill="#f9a038" stroke="#5a4a40" stroke-width="0.8"/>
<line x1="717.50" y1="1311.10" x2="717.50" y2="1265.50" stroke="#5a5a5a" stroke-width="1"/>
<line x1="713.50" y1="1265.50" x2="721.50" y2="1265.50" stroke="#5a5a5a" stroke-width="1.2"/>
<rect x="709.10" y="1311.50" width="16.60" height="57.70" fill="#a50000" stroke="#5a4a40" stroke-width="0.8"/>
<line x1="742.50" y1="1330.30" x2="742.50" y2="1302.50" stroke="#5a5a5a" stroke-width="1"/>
<line x1="738.50" y1="1302.50" x2="746.50" y2="1302.50" stroke="#5a5a5a" stroke-width="1.2"/>
<rect x="734.60" y="1330.70" width="16.60" height="38.50" fill="#f83c40" stroke="#5a4a40" stroke-width="0.8"/>
<line x1="768.50" y1="1335.50" x2="768.50" y2="1326.50" stroke="#5a5a5a" stroke-width="1"/>
<line x1="764.50" y1="1326.50" x2="772.50" y2="1326.50" stroke="#5a5a5a" stroke-width="1.2"/>
<rect x="760.10" y="1335.90" width="16.60" height="33.30" fill="#f9a038" stroke="#5a4a40" stroke-width="0.8"/>
<line x1="508.30" y1="1180.90" x2="508.30" y2="1370.20" stroke="#000" stroke-width="2"/>
<line x1="502.80" y1="1369.20" x2="790.70" y2="1369.20" stroke="#000" stroke-width="2"/>
<line x1="502.80" y1="1369.20" x2="508.30" y2="1369.20" stroke="#000" stroke-width="2"/>
<text transform="translate(500.70,1374.40) scale(1.0,1)" text-anchor="end" font-weight="bold" font-size="15">0.0</text>
<line x1="502.80" y1="1306.73" x2="508.30" y2="1306.73" stroke="#000" stroke-width="2"/>
<text transform="translate(500.70,1311.93) scale(1.0,1)" text-anchor="end" font-weight="bold" font-size="15">0.5</text>
<line x1="502.80" y1="1244.27" x2="508.30" y2="1244.27" stroke="#000" stroke-width="2"/>
<text transform="translate(500.70,1249.47) scale(1.0,1)" text-anchor="end" font-weight="bold" font-size="15">1.0</text>
<line x1="502.80" y1="1181.80" x2="508.30" y2="1181.80" stroke="#000" stroke-width="2"/>
<text transform="translate(500.70,1187.00) scale(1.0,1)" text-anchor="end" font-weight="bold" font-size="15">1.5</text>
<line x1="555.60" y1="1369.20" x2="555.60" y2="1374.70" stroke="#000" stroke-width="2"/>
<text transform="translate(555.60,1389.50) scale(1.0,1)" text-anchor="middle" font-weight="bold" font-size="14.5">T0</text>
<line x1="649.10" y1="1369.20" x2="649.10" y2="1374.70" stroke="#000" stroke-width="2"/>
<text transform="translate(649.10,1389.50) scale(1.0,1)" text-anchor="middle" font-weight="bold" font-size="14.5">T1</text>
<line x1="742.90" y1="1369.20" x2="742.90" y2="1374.70" stroke="#000" stroke-width="2"/>
<text transform="translate(742.90,1389.50) scale(1.0,1)" text-anchor="middle" font-weight="bold" font-size="14.5">T2</text>
<text transform="translate(649.10,1411.80) scale(1.0,1)" text-anchor="middle" font-weight="bold" font-size="15">time</text>
<text transform="translate(472.70,1275.50) rotate(-90) scale(1.0,1)" text-anchor="middle" font-weight="bold" font-size="15.3">relative expression</text>
<text transform="translate(650.30,1159.40) scale(1.0,1)" text-anchor="middle" font-weight="bold" font-size="18">HEAD KIDNEY <tspan font-style="italic">mr</tspan></text>
<text transform="translate(532.50,1237.40) scale(1.0,1)" text-anchor="middle" font-size="18">†c</text>
<text transform="translate(555.60,1282.00) scale(1.0,1)" text-anchor="middle" font-size="18">#b'</text>
<text transform="translate(582.00,1265.10) scale(1.0,1)" text-anchor="middle" font-size="18">#b"</text>
<text transform="translate(623.90,1342.30) scale(1.0,1)" text-anchor="middle" font-size="18">a</text>
<text transform="translate(649.10,1342.30) scale(1.0,1)" text-anchor="middle" font-size="18">a'</text>
<text transform="translate(675.00,1331.00) scale(1.0,1)" text-anchor="middle" font-size="18">a"</text>
<text transform="translate(717.80,1256.80) scale(1.0,1)" text-anchor="middle" font-size="18">b</text>
<text transform="translate(744.70,1294.00) scale(1.0,1)" text-anchor="middle" font-size="18">ab'</text>
<text transform="translate(768.60,1318.40) scale(1.0,1)" text-anchor="middle" font-size="18">ab"</text>
<text transform="translate(591.30,1445.80) scale(1.0,1)" font-size="15.6" xml:space="preserve" style="white-space:pre">Diet <tspan font-style="italic">P</tspan> = 0.0006 (B/A/A)</text>
<text transform="translate(591.30,1463.90) scale(1.0,1)" font-size="15.6" xml:space="preserve" style="white-space:pre">Time <tspan font-style="italic">P</tspan> &lt; 0.0001 (C/A/B)</text>
<text transform="translate(591.30,1482.70) scale(1.0,1)" font-size="15.6" xml:space="preserve" style="white-space:pre">Inter. <tspan font-style="italic">P</tspan> = 0.004</text>
<rect x="52.20" y="1710.10" width="16.60" height="46.20" fill="#a50000" stroke="#5a4a40" stroke-width="0.8"/>
<line x1="86.50" y1="1726.30" x2="86.50" y2="1707.50" stroke="#5a5a5a" stroke-width="1"/>
<line x1="82.50" y1="1707.50" x2="90.50" y2="1707.50" stroke="#5a5a5a" stroke-width="1.2"/>
<rect x="77.70" y="1726.70" width="16.60" height="29.60" fill="#f83c40" stroke="#5a4a40" stroke-width="0.8"/>
<line x1="111.50" y1="1712.20" x2="111.50" y2="1696.50" stroke="#5a5a5a" stroke-width="1"/>
<line x1="107.50" y1="1696.50" x2="115.50" y2="1696.50" stroke="#5a5a5a" stroke-width="1.2"/>
<rect x="103.20" y="1712.60" width="16.60" height="43.70" fill="#f9a038" stroke="#5a4a40" stroke-width="0.8"/>
<line x1="153.50" y1="1713.00" x2="153.50" y2="1689.50" stroke="#5a5a5a" stroke-width="1"/>
<line x1="149.50" y1="1689.50" x2="157.50" y2="1689.50" stroke="#5a5a5a" stroke-width="1.2"/>
<rect x="145.60" y="1713.40" width="16.60" height="42.90" fill="#a50000" stroke="#5a4a40" stroke-width="0.8"/>
<line x1="179.50" y1="1658.90" x2="179.50" y2="1602.50" stroke="#5a5a5a" stroke-width="1"/>
<line x1="175.50" y1="1602.50" x2="183.50" y2="1602.50" stroke="#5a5a5a" stroke-width="1.2"/>
<rect x="171.10" y="1659.30" width="16.60" height="97.00" fill="#f83c40" stroke="#5a4a40" stroke-width="0.8"/>
<line x1="204.50" y1="1722.00" x2="204.50" y2="1706.50" stroke="#5a5a5a" stroke-width="1"/>
<line x1="200.50" y1="1706.50" x2="208.50" y2="1706.50" stroke="#5a5a5a" stroke-width="1.2"/>
<rect x="196.60" y="1722.40" width="16.60" height="33.90" fill="#f9a038" stroke="#5a4a40" stroke-width="0.8"/>
<line x1="247.50" y1="1700.90" x2="247.50" y2="1675.50" stroke="#5a5a5a" stroke-width="1"/>
<line x1="243.50" y1="1675.50" x2="251.50" y2="1675.50" stroke="#5a5a5a" stroke-width="1.2"/>
<rect x="239.30" y="1701.30" width="16.60" height="55.00" fill="#a50000" stroke="#5a4a40" stroke-width="0.8"/>
<line x1="273.50" y1="1703.40" x2="273.50" y2="1648.50" stroke="#5a5a5a" stroke-width="1"/>
<line x1="269.50" y1="1648.50" x2="277.50" y2="1648.50" stroke="#5a5a5a" stroke-width="1.2"/>
<rect x="264.80" y="1703.80" width="16.60" height="52.50" fill="#f83c40" stroke="#5a4a40" stroke-width="0.8"/>
<line x1="298.50" y1="1673.20" x2="298.50" y2="1615.50" stroke="#5a5a5a" stroke-width="1"/>
<line x1="294.50" y1="1615.50" x2="302.50" y2="1615.50" stroke="#5a5a5a" stroke-width="1.2"/>
<rect x="290.30" y="1673.60" width="16.60" height="82.70" fill="#f9a038" stroke="#5a4a40" stroke-width="0.8"/>
<line x1="39.00" y1="1567.90" x2="39.00" y2="1757.30" stroke="#000" stroke-width="2"/>
<line x1="33.50" y1="1756.30" x2="320.40" y2="1756.30" stroke="#000" stroke-width="2"/>
<line x1="33.50" y1="1756.30" x2="39.00" y2="1756.30" stroke="#000" stroke-width="2"/>
<text transform="translate(31.40,1761.50) scale(1.0,1)" text-anchor="end" font-weight="bold" font-size="15">0</text>
<line x1="33.50" y1="1709.42" x2="39.00" y2="1709.42" stroke="#000" stroke-width="2"/>
<text transform="translate(31.40,1714.62) scale(1.0,1)" text-anchor="end" font-weight="bold" font-size="15">1</text>
<line x1="33.50" y1="1662.55" x2="39.00" y2="1662.55" stroke="#000" stroke-width="2"/>
<text transform="translate(31.40,1667.75) scale(1.0,1)" text-anchor="end" font-weight="bold" font-size="15">2</text>
<line x1="33.50" y1="1615.67" x2="39.00" y2="1615.67" stroke="#000" stroke-width="2"/>
<text transform="translate(31.40,1620.88) scale(1.0,1)" text-anchor="end" font-weight="bold" font-size="15">3</text>
<line x1="33.50" y1="1568.80" x2="39.00" y2="1568.80" stroke="#000" stroke-width="2"/>
<text transform="translate(31.40,1574.00) scale(1.0,1)" text-anchor="end" font-weight="bold" font-size="15">4</text>
<line x1="86.00" y1="1756.30" x2="86.00" y2="1761.80" stroke="#000" stroke-width="2"/>
<text transform="translate(86.00,1776.60) scale(1.0,1)" text-anchor="middle" font-weight="bold" font-size="14.5">T0</text>
<line x1="179.40" y1="1756.30" x2="179.40" y2="1761.80" stroke="#000" stroke-width="2"/>
<text transform="translate(179.40,1776.60) scale(1.0,1)" text-anchor="middle" font-weight="bold" font-size="14.5">T1</text>
<line x1="273.10" y1="1756.30" x2="273.10" y2="1761.80" stroke="#000" stroke-width="2"/>
<text transform="translate(273.10,1776.60) scale(1.0,1)" text-anchor="middle" font-weight="bold" font-size="14.5">T2</text>
<text transform="translate(179.40,1798.90) scale(1.0,1)" text-anchor="middle" font-weight="bold" font-size="15">time</text>
<text transform="translate(15.70,1662.55) rotate(-90) scale(1.0,1)" text-anchor="middle" font-weight="bold" font-size="15.3">relative expression</text>
<text transform="translate(184.00,1546.40) scale(1.0,1)" text-anchor="middle" font-weight="bold" font-size="18">BRAIN <tspan font-style="italic">gr-1/mr</tspan></text>
<text transform="translate(86.80,1700.40) scale(1.0,1)" text-anchor="middle" font-size="18">a'</text>
<text transform="translate(180.60,1595.80) scale(1.0,1)" text-anchor="middle" font-size="18">b'</text>
<text transform="translate(273.60,1640.50) scale(1.0,1)" text-anchor="middle" font-size="18">ab'</text>
<text transform="translate(126.30,1828.70) scale(1.0,1)" font-size="14.2" xml:space="preserve" style="white-space:pre">Diet <tspan font-style="italic">P</tspan> = 0.6685</text>
<text transform="translate(126.30,1845.90) scale(1.0,1)" font-size="14.2" xml:space="preserve" style="white-space:pre">Time <tspan font-style="italic">P</tspan> = 0.1593</text>
<text transform="translate(126.30,1863.00) scale(1.0,1)" font-size="14.2" xml:space="preserve" style="white-space:pre">Inter. <tspan font-style="italic">P</tspan> = 0.039</text>
<rect x="518.50" y="1737.80" width="16.60" height="18.50" fill="#a50000" stroke="#5a4a40" stroke-width="0.8"/>
<line x1="552.50" y1="1719.30" x2="552.50" y2="1703.50" stroke="#5a5a5a" stroke-width="1"/>
<line x1="548.50" y1="1703.50" x2="556.50" y2="1703.50" stroke="#5a5a5a" stroke-width="1.2"/>
<rect x="544.00" y="1719.70" width="16.60" height="36.60" fill="#f83c40" stroke="#5a4a40" stroke-width="0.8"/>
<line x1="577.50" y1="1717.30" x2="577.50" y2="1699.50" stroke="#5a5a5a" stroke-width="1"/>
<line x1="573.50" y1="1699.50" x2="581.50" y2="1699.50" stroke="#5a5a5a" stroke-width="1.2"/>
<rect x="569.50" y="1717.70" width="16.60" height="38.60" fill="#f9a038" stroke="#5a4a40" stroke-width="0.8"/>
<line x1="620.50" y1="1683.80" x2="620.50" y2="1595.50" stroke="#5a5a5a" stroke-width="1"/>
<line x1="616.50" y1="1595.50" x2="624.50" y2="1595.50" stroke="#5a5a5a" stroke-width="1.2"/>
<rect x="612.30" y="1684.20" width="16.60" height="72.10" fill="#a50000" stroke="#5a4a40" stroke-width="0.8"/>
<line x1="646.50" y1="1705.40" x2="646.50" y2="1662.50" stroke="#5a5a5a" stroke-width="1"/>
<line x1="642.50" y1="1662.50" x2="650.50" y2="1662.50" stroke="#5a5a5a" stroke-width="1.2"/>
<rect x="637.80" y="1705.80" width="16.60" height="50.50" fill="#f83c40" stroke="#5a4a40" stroke-width="0.8"/>
<line x1="671.50" y1="1704.20" x2="671.50" y2="1685.50" stroke="#5a5a5a" stroke-width="1"/>
<line x1="667.50" y1="1685.50" x2="675.50" y2="1685.50" stroke="#5a5a5a" stroke-width="1.2"/>
<rect x="663.30" y="1704.60" width="16.60" height="51.70" fill="#f9a038" stroke="#5a4a40" stroke-width="0.8"/>
<line x1="714.50" y1="1663.70" x2="714.50" y2="1630.50" stroke="#5a5a5a" stroke-width="1"/>
<line x1="710.50" y1="1630.50" x2="718.50" y2="1630.50" stroke="#5a5a5a" stroke-width="1.2"/>
<rect x="705.80" y="1664.10" width="16.60" height="92.20" fill="#a50000" stroke="#5a4a40" stroke-width="0.8"/>
<line x1="739.50" y1="1640.00" x2="739.50" y2="1597.50" stroke="#5a5a5a" stroke-width="1"/>
<line x1="735.50" y1="1597.50" x2="743.50" y2="1597.50" stroke="#5a5a5a" stroke-width="1.2"/>
<rect x="731.30" y="1640.40" width="16.60" height="115.90" fill="#f83c40" stroke="#5a4a40" stroke-width="0.8"/>
<line x1="765.50" y1="1632.20" x2="765.50" y2="1601.50" stroke="#5a5a5a" stroke-width="1"/>
<line x1="761.50" y1="1601.50" x2="769.50" y2="1601.50" stroke="#5a5a5a" stroke-width="1.2"/>
<rect x="756.80" y="1632.60" width="16.60" height="123.70" fill="#f9a038" stroke="#5a4a40" stroke-width="0.8"/>
<line x1="506.10" y1="1567.90" x2="506.10" y2="1757.30" stroke="#000" stroke-width="2"/>
<line x1="500.60" y1="1756.30" x2="786.70" y2="1756.30" stroke="#000" stroke-width="2"/>
<line x1="500.60" y1="1756.30" x2="506.10" y2="1756.30" stroke="#000" stroke-width="2"/>
<text transform="translate(498.50,1761.50) scale(1.0,1)" text-anchor="end" font-weight="bold" font-size="15">0</text>
<line x1="500.60" y1="1718.80" x2="506.10" y2="1718.80" stroke="#000" stroke-width="2"/>
<text transform="translate(498.50,1724.00) scale(1.0,1)" text-anchor="end" font-weight="bold" font-size="15">2</text>
<line x1="500.60" y1="1681.30" x2="506.10" y2="1681.30" stroke="#000" stroke-width="2"/>
<text transform="translate(498.50,1686.50) scale(1.0,1)" text-anchor="end" font-weight="bold" font-size="15">4</text>
<line x1="500.60" y1="1643.80" x2="506.10" y2="1643.80" stroke="#000" stroke-width="2"/>
<text transform="translate(498.50,1649.00) scale(1.0,1)" text-anchor="end" font-weight="bold" font-size="15">6</text>
<line x1="500.60" y1="1606.30" x2="506.10" y2="1606.30" stroke="#000" stroke-width="2"/>
<text transform="translate(498.50,1611.50) scale(1.0,1)" text-anchor="end" font-weight="bold" font-size="15">8</text>
<line x1="500.60" y1="1568.80" x2="506.10" y2="1568.80" stroke="#000" stroke-width="2"/>
<text transform="translate(498.50,1574.00) scale(1.0,1)" text-anchor="end" font-weight="bold" font-size="15">10</text>
<line x1="552.30" y1="1756.30" x2="552.30" y2="1761.80" stroke="#000" stroke-width="2"/>
<text transform="translate(552.30,1776.60) scale(1.0,1)" text-anchor="middle" font-weight="bold" font-size="14.5">T0</text>
<line x1="646.10" y1="1756.30" x2="646.10" y2="1761.80" stroke="#000" stroke-width="2"/>
<text transform="translate(646.10,1776.60) scale(1.0,1)" text-anchor="middle" font-weight="bold" font-size="14.5">T1</text>
<line x1="739.60" y1="1756.30" x2="739.60" y2="1761.80" stroke="#000" stroke-width="2"/>
<text transform="translate(739.60,1776.60) scale(1.0,1)" text-anchor="middle" font-weight="bold" font-size="14.5">T2</text>
<text transform="translate(646.10,1798.90) scale(1.0,1)" text-anchor="middle" font-weight="bold" font-size="15">time</text>
<text transform="translate(472.10,1662.55) rotate(-90) scale(1.0,1)" text-anchor="middle" font-weight="bold" font-size="15.3">relative expression</text>
<text transform="translate(647.00,1546.40) scale(1.0,1)" text-anchor="middle" font-weight="bold" font-size="18">HEAD KIDNEY <tspan font-style="italic">gr-1/mr</tspan></text>
<text transform="translate(587.30,1832.00) scale(1.0,1)" font-size="15.5" xml:space="preserve" style="white-space:pre">Diet <tspan font-style="italic">P</tspan> = 0.7778</text>
<text transform="translate(587.30,1849.60) scale(1.0,1)" font-size="15.5" xml:space="preserve" style="white-space:pre">Time <tspan font-style="italic">P</tspan> &lt; 0.0001 (A/A/B)</text>
<text transform="translate(587.30,1867.20) scale(1.0,1)" font-size="15.5" xml:space="preserve" style="white-space:pre">Inter. <tspan font-style="italic">P</tspan> = 0.5804</text>
<text transform="translate(399.50,1879.20) scale(1.0,1)" text-anchor="middle" font-weight="bold" font-size="27">Legend</text>
<rect x="73.1" y="1908.2" width="35.5" height="17.5" fill="#a50000" stroke="#5a4a40" stroke-width="1"/>
<text transform="translate(128.60,1927.00) scale(1.0,1)" font-size="28">FM30/FO15</text>
<rect x="308.0" y="1908.2" width="35.5" height="17.5" fill="#f83c40" stroke="#5a4a40" stroke-width="1"/>
<text transform="translate(363.10,1927.00) scale(1.0,1)" font-size="28">FM20/FO7</text>
<rect x="543.2" y="1908.2" width="35.5" height="17.5" fill="#f9a038" stroke="#5a4a40" stroke-width="1"/>
<text transform="translate(598.20,1927.00) scale(1.0,1)" font-size="28">FM10/FO3</text>
</svg>
</body></html>
